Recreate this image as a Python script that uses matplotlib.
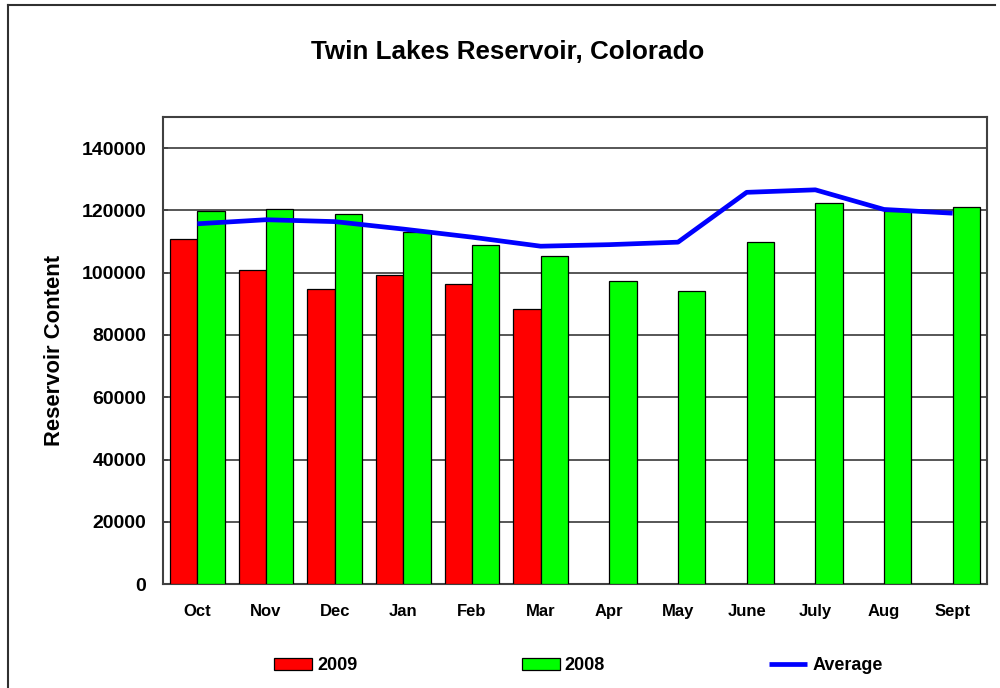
import numpy as np
import matplotlib
matplotlib.use("Agg")
import matplotlib.pyplot as plt
from matplotlib.lines import Line2D

plt.rcParams["font.family"] = ["Liberation Sans", "DejaVu Sans"]
plt.rcParams["font.weight"] = "bold"

# data
months = ["Oct", "Nov", "Dec", "Jan", "Feb", "Mar", "Apr", "May", "June", "July", "Aug", "Sept"]
vals_2009 = [110700, 100800, 94900, 99100, 96500, 88400]
vals_2008 = [119800, 120300, 118900, 113000, 109000, 105500,
             97400, 94200, 109900, 122500, 119700, 121000]
average = [115700, 117000, 116400, 114000, 111400, 108500,
           109000, 109800, 125800, 126600, 120300, 119100]
yticks = [0, 20000, 40000, 60000, 80000, 100000, 120000, 140000]

fig = plt.figure(figsize=(10, 6.88), dpi=100)
ax = fig.add_axes([0.163, 0.151, 0.824, 0.679])

x = np.arange(len(months))
w = 0.4
b09 = ax.bar(x[:len(vals_2009)] - w / 2, vals_2009, width=w, color="#ff0000",
             edgecolor="black", linewidth=0.9, label="2009", zorder=3)
b08 = ax.bar(x + w / 2, vals_2008, width=w, color="#00ff00",
             edgecolor="black", linewidth=0.9, label="2008", zorder=3)
avg, = ax.plot(x, average, color="#0000ff", linewidth=3.4, label="Average",
               zorder=4, solid_capstyle="butt")

ax.set_xlim(-0.5, len(months) - 0.5)
ax.set_ylim(0, 150000)
ax.set_yticks(yticks)
ax.set_yticklabels([str(v) for v in yticks], fontsize=14, fontweight="bold")
ax.set_xticks(x)
ax.set_xticklabels(months, fontsize=12, fontweight="bold")
ax.tick_params(axis="x", length=0, pad=14)
ax.tick_params(axis="y", direction="in", length=3.6, width=1.2,
               color="#404040", pad=12)
ax.yaxis.grid(True, color="#3a3a3a", linewidth=1.2, zorder=1)
ax.set_axisbelow(True)
for s in ax.spines.values():
    s.set_color("#404040")
    s.set_linewidth(1.5)

fig.text(0.508, 0.925, "Twin Lakes Reservoir, Colorado", fontsize=18.7,
         fontweight="bold", ha="center", va="center")
fig.text(0.0545, 0.491, "Reservoir Content", fontsize=15.8, fontweight="bold",
         rotation=90, ha="center", va="center")

leg = fig.legend(handles=[b09, b08, avg], labels=["2009", "2008", "Average"],
                 loc="center", bbox_to_anchor=(0.5785, 0.032), ncol=3,
                 frameon=False, fontsize=13, handlelength=2.1,
                 handletextpad=0.28, columnspacing=9.1, borderpad=0)
for t in leg.get_texts():
    t.set_fontweight("bold")

# outer chart border (top and left)
fig.add_artist(Line2D([0.008, 0.995], [1 - 5 / 688, 1 - 5 / 688],
                      color="#303030", linewidth=1.5))
fig.add_artist(Line2D([0.008, 0.008], [0, 1 - 5 / 688],
                      color="#303030", linewidth=1.5))

fig.savefig("out.png", dpi=100)
